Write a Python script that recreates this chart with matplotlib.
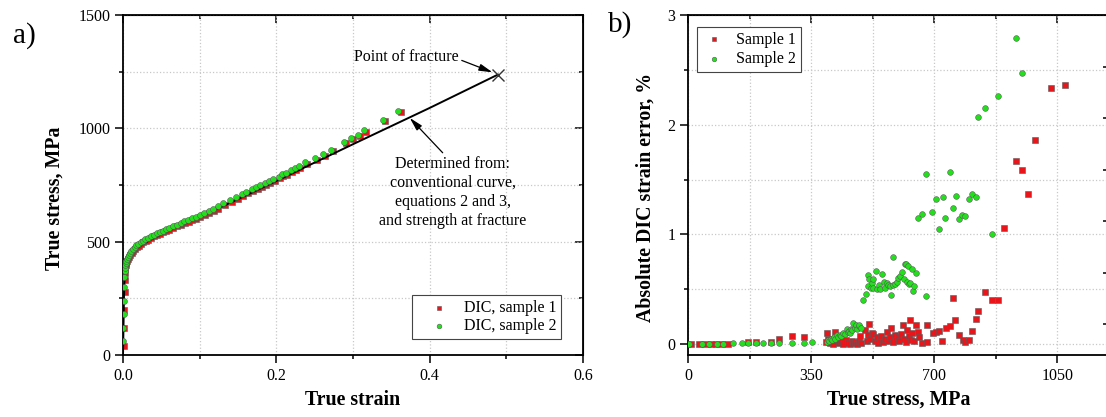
import matplotlib
matplotlib.use('Agg')
import matplotlib.pyplot as plt
from matplotlib.ticker import MultipleLocator, FixedLocator

plt.rcParams['font.family'] = ['Liberation Serif', 'DejaVu Serif']

# ---------------- Panel a data ----------------
line_strain = [0, 0.0015, 0.0025, 0.0035, 0.005, 0.008, 0.012, 0.018, 0.025, 0.035,
               0.05, 0.07, 0.1, 0.15, 0.2, 0.3, 0.4, 0.489]
line_stress = [0, 300, 370, 395, 415, 436, 453, 470, 487, 507,
               533, 564, 608, 688, 768, 930, 1090, 1237]
fracture_strain = 0.489
fracture_stress = 1237

s1_strain = [0.0008, 0.0012, 0.0016, 0.002, 0.0024, 0.0028, 0.0032, 0.0038, 0.0045, 0.0055,
             0.0065, 0.008, 0.0095, 0.0115, 0.0135, 0.0155, 0.018, 0.0205, 0.0235, 0.0265,
             0.0295, 0.0325, 0.0365, 0.0405, 0.0445, 0.0485, 0.0525, 0.0565, 0.0605, 0.0655,
             0.0705, 0.0755, 0.0805, 0.0855, 0.0905, 0.0955, 0.1005, 0.1065, 0.1125, 0.1185,
             0.1245, 0.133, 0.142, 0.150, 0.157, 0.163, 0.170, 0.176, 0.181, 0.187,
             0.192, 0.198, 0.205, 0.209, 0.214, 0.221, 0.226, 0.231, 0.240, 0.253,
             0.264, 0.274, 0.291, 0.300, 0.309, 0.317, 0.342, 0.362]
s1_stress = [40, 120, 200, 280, 330, 360, 380, 395, 405, 415,
             423, 434, 443, 452, 460, 467, 475, 482, 490, 497,
             503, 509, 516, 523, 529, 535, 541, 547, 553, 560,
             567, 574, 581, 588, 595, 602, 609, 618, 627, 636,
             645, 663, 676, 690, 701, 713, 723, 733, 742, 752,
             760, 768, 779, 789, 796, 808, 818, 826, 842, 860,
             880, 898, 934, 951, 964, 986, 1033, 1073]

s2_strain = [0.0003, 0.0006, 0.0009, 0.0012, 0.0015, 0.0018, 0.0021, 0.0024, 0.0028, 0.0033,
             0.004, 0.005, 0.006, 0.0075, 0.009, 0.011, 0.013, 0.015, 0.0175, 0.02,
             0.023, 0.026, 0.029, 0.032, 0.036, 0.040, 0.044, 0.048, 0.052, 0.056,
             0.060, 0.065, 0.070, 0.075, 0.080, 0.085, 0.090, 0.095, 0.100, 0.106,
             0.112, 0.118, 0.124, 0.131, 0.140, 0.148, 0.155, 0.161, 0.168, 0.174,
             0.179, 0.185, 0.190, 0.196, 0.203, 0.207, 0.212, 0.219, 0.224, 0.229,
             0.237, 0.250, 0.261, 0.271, 0.288, 0.297, 0.306, 0.314, 0.339, 0.359]
s2_stress = [60, 120, 180, 240, 300, 345, 370, 385, 395, 405,
             415, 425, 433, 443, 452, 461, 469, 476, 484, 491,
             498, 505, 511, 517, 524, 531, 537, 543, 549, 555,
             561, 568, 575, 582, 589, 596, 603, 610, 617, 626,
             635, 644, 656, 670, 684, 698, 709, 721, 731, 741,
             750, 760, 768, 776, 787, 797, 804, 816, 826, 834,
             850, 868, 887, 904, 940, 957, 970, 992, 1037, 1076]

# ---------------- Panel b data ----------------
b1_stress = [8, 30, 48, 64, 81, 97, 113, 170, 194, 235, 259, 295, 331,
             392, 395, 399, 403, 408, 412, 418, 420, 425, 430, 435, 440, 445, 450, 455,
             460, 465, 470, 475, 480, 485, 489, 492, 502, 515,
             508, 512, 518, 522, 527, 532, 537, 541, 546, 550, 555, 560, 565, 570, 575,
             578, 583, 588, 592, 597, 601, 606, 611, 615, 619, 624, 628, 630, 634, 638,
             643, 649, 653, 658, 665, 679, 679,
             698, 706, 715, 722, 734, 745, 753, 760, 772, 781, 788, 798, 809, 819, 826,
             844, 865, 881, 898, 934, 951, 967, 986, 1031, 1072]
b1_error = [0, 0, 0, 0, 0, 0, 0, 0.02, 0.02, 0.02, 0.05, 0.07, 0.06,
            0.02, 0.10, 0.05, 0.01, 0.03, 0.0, 0.11, 0.02, 0.05, 0.01, 0.03, 0.0, 0.02, 0.04, 0.01,
            0.0, 0.03, 0.01, 0.02, 0.0, 0.03, 0.07, 0.01, 0.13, 0.18,
            0.03, 0.08, 0.05, 0.10, 0.09, 0.03, 0.06, 0.01, 0.04, 0.07, 0.02, 0.05, 0.11, 0.03, 0.06,
            0.15, 0.02, 0.08, 0.04, 0.06, 0.03, 0.09, 0.17, 0.05, 0.02, 0.13, 0.07, 0.22, 0.04, 0.10,
            0.03, 0.17, 0.11, 0.06, 0.01, 0.17, 0.02,
            0.10, 0.11, 0.12, 0.03, 0.15, 0.16, 0.42, 0.22, 0.08, 0.04, 0.02, 0.04, 0.12, 0.23, 0.30,
            0.47, 0.40, 0.40, 1.06, 1.67, 1.59, 1.37, 1.86, 2.33, 2.36]

b2_stress = [3, 39, 61, 82, 100, 129, 153, 172, 194, 214, 235, 259, 295, 331, 352,
             395, 398, 402, 406, 410, 414, 418, 423, 427, 432, 436, 442, 446, 451, 455,
             457, 461, 463, 467, 470, 474, 478, 481, 485, 487, 492,
             499, 506, 511, 513, 516, 520, 523, 527, 527, 534, 538, 542, 545, 552, 556,
             561, 565, 570, 575, 578, 583, 583, 588, 594, 598, 603, 608, 613, 618, 620,
             624, 625, 629, 632, 637, 639, 643, 648, 677,
             654, 665, 678, 694, 705, 715, 724, 732, 744, 753, 761, 772, 780, 789, 798,
             809, 818, 826, 844, 865, 881, 934, 951]
b2_error = [0, 0, 0, 0, 0, 0.01, 0.01, 0.01, 0.01, 0.01, 0.01, 0.01, 0.01, 0.01, 0.02,
            0.02, 0.04, 0.03, 0.05, 0.04, 0.06, 0.05, 0.08, 0.06, 0.08, 0.07, 0.10, 0.09, 0.14, 0.11,
            0.12, 0.10, 0.14, 0.13, 0.19, 0.15, 0.17, 0.14, 0.16, 0.17, 0.15,
            0.40, 0.46, 0.63, 0.53, 0.59, 0.51, 0.56, 0.59, 0.51, 0.67, 0.50, 0.54, 0.50, 0.64, 0.57,
            0.51, 0.56, 0.54, 0.53, 0.45, 0.79, 0.54, 0.55, 0.57, 0.60, 0.62, 0.66, 0.59, 0.73, 0.73,
            0.57, 0.71, 0.55, 0.56, 0.68, 0.48, 0.53, 0.65, 0.44,
            1.15, 1.19, 1.55, 1.20, 1.32, 1.05, 1.34, 1.15, 1.57, 1.24, 1.35, 1.14, 1.18, 1.17, 1.32,
            1.37, 1.34, 2.07, 2.15, 1.00, 2.26, 2.79, 2.47]

# ticks of the neighbouring (cropped) axis at the right edge
edge_ticks = [1, 2, 3, 4, 5, 6]

RED = '#e8151b'
GREEN = '#22e01c'
EDGE = '#5a5a5a'
GRID = '#c8c8c8'

W, H = 1106, 417
fig = plt.figure(figsize=(W / 100, H / 100), dpi=100)
axa = fig.add_axes([123 / W, 62 / H, 460 / W, 340 / H])
axb = fig.add_axes([688 / W, 62 / H, 422 / W, 340 / H])

tick_fs = 11.5
label_fs = 14.3


def style_axes(ax, xmaj, xmin, ymaj, ymin, right_mirror=True):
    ax.xaxis.set_major_locator(MultipleLocator(xmaj))
    ax.xaxis.set_minor_locator(MultipleLocator(xmin))
    ax.yaxis.set_major_locator(MultipleLocator(ymaj))
    ax.yaxis.set_minor_locator(MultipleLocator(ymin))
    ax.grid(which='both', color=GRID, linestyle=':', linewidth=0.9)
    ax.set_axisbelow(True)
    for sp in ax.spines.values():
        sp.set_linewidth(1.3)
    ax.tick_params(which='both', direction='out', width=1.1, labelsize=tick_fs,
                   top=False, right=False)
    ax.tick_params(which='major', length=6, pad=3)
    ax.tick_params(which='minor', length=3)
    sx = ax.secondary_xaxis('top')
    sx.xaxis.set_major_locator(MultipleLocator(xmaj))
    sx.xaxis.set_minor_locator(MultipleLocator(xmin))
    sx.tick_params(which='both', direction='in', width=1.1, labeltop=False)
    sx.tick_params(which='major', length=6)
    sx.tick_params(which='minor', length=3)
    if right_mirror:
        sy = ax.secondary_yaxis('right')
        sy.yaxis.set_major_locator(MultipleLocator(ymaj))
        sy.yaxis.set_minor_locator(MultipleLocator(ymin))
        sy.tick_params(which='both', direction='in', width=1.1, labelright=False)
        sy.tick_params(which='major', length=6)
        sy.tick_params(which='minor', length=3)


# ---------------- Panel a ----------------
axa.set_xlim(0, 0.6)
axa.set_ylim(0, 1500)
style_axes(axa, 0.2, 0.1, 500, 250)
axa.xaxis.set_major_formatter(matplotlib.ticker.FormatStrFormatter('%.1f'))

axa.scatter(s1_strain, s1_stress, marker='s', s=16, color=RED, edgecolors=EDGE,
            linewidths=0.4, zorder=3, label='DIC, sample 1')
axa.plot(line_strain, line_stress, color='black', lw=1.4, zorder=4)
axa.scatter(s2_strain, s2_stress, marker='o', s=18, color=GREEN, edgecolors=EDGE,
            linewidths=0.4, zorder=5, label='DIC, sample 2')
axa.plot([fracture_strain], [fracture_stress], marker='x', color='#333333',
         markersize=8, mew=1.0, zorder=6)

arrow_kw = dict(arrowstyle='-|>,head_length=0.7,head_width=0.18', color='black',
                lw=0.9, shrinkA=0, shrinkB=0)
axa.annotate('Point of fracture', xy=(0.482, 1247), xytext=(0.370, 1315),
             fontsize=11.5, ha='center', va='center',
             arrowprops=dict(arrow_kw, relpos=(1.0, 0.35)))
axa.annotate('Determined from:\nconventional curve,\nequations 2 and 3,\nand strength at fracture',
             xy=(0.374, 1046), xytext=(0.430, 880), fontsize=11.5, ha='center', va='top',
             linespacing=1.25, arrowprops=dict(arrow_kw, relpos=(0.45, 1.0)))

leg = axa.legend(loc='lower right', bbox_to_anchor=(0.952, 0.047), borderaxespad=0,
                 fontsize=11.5, fancybox=False, framealpha=1, edgecolor='#444444',
                 handletextpad=0.15, borderpad=0.3, labelspacing=0.15, markerscale=0.8,
                 handlelength=2.8)
leg.get_frame().set_linewidth(0.8)

axa.set_xlabel('True strain', fontsize=label_fs, fontweight='bold')
axa.xaxis.set_label_coords(0.5, -0.103)
axa.set_ylabel('True stress, MPa', fontsize=label_fs, fontweight='bold')
axa.yaxis.set_label_coords(-0.128, 0.462)

# ---------------- Panel b ----------------
axb.set_xlim(0, 1200)
axb.set_ylim(-0.1, 3)
style_axes(axb, 350, 175, 1, 0.5, right_mirror=False)

axb.scatter(b1_stress, b1_error, marker='s', s=15, color=RED, edgecolors=EDGE,
            linewidths=0.4, zorder=3, label='Sample 1')
axb.scatter(b2_stress, b2_error, marker='o', s=17, color=GREEN, edgecolors=EDGE,
            linewidths=0.4, zorder=4, label='Sample 2')

legb = axb.legend(loc='upper left', bbox_to_anchor=(0.021, 0.965), borderaxespad=0,
                  fontsize=11.5, fancybox=False, framealpha=1, edgecolor='#444444',
                  handletextpad=0.55, borderpad=0.3, labelspacing=0.2, markerscale=0.8,
                  handlelength=1.6)
legb.get_frame().set_linewidth(0.8)

axb.set_xlabel('True stress, MPa', fontsize=label_fs, fontweight='bold')
axb.xaxis.set_label_coords(0.5, -0.103)
axb.set_ylabel('Absolute DIC strain error, %', fontsize=label_fs, fontweight='bold')
axb.yaxis.set_label_coords(-0.076, 0.462)

axt = axb.twinx()
axt.set_ylim(0.4, 7.0)
axt.yaxis.set_major_locator(FixedLocator(edge_ticks))
axt.tick_params(axis='y', direction='in', length=5, width=1.1, labelright=False)
for sp in axt.spines.values():
    sp.set_visible(False)
axt.spines['right'].set_visible(True)
axt.spines['right'].set_linewidth(1.3)

fig.text(24 / W, 1 - 36 / H, 'a)', fontsize=21, ha='center', va='center')
fig.text(620 / W, 1 - 25 / H, 'b)', fontsize=21, ha='center', va='center')

fig.savefig('out.png', dpi=100)
